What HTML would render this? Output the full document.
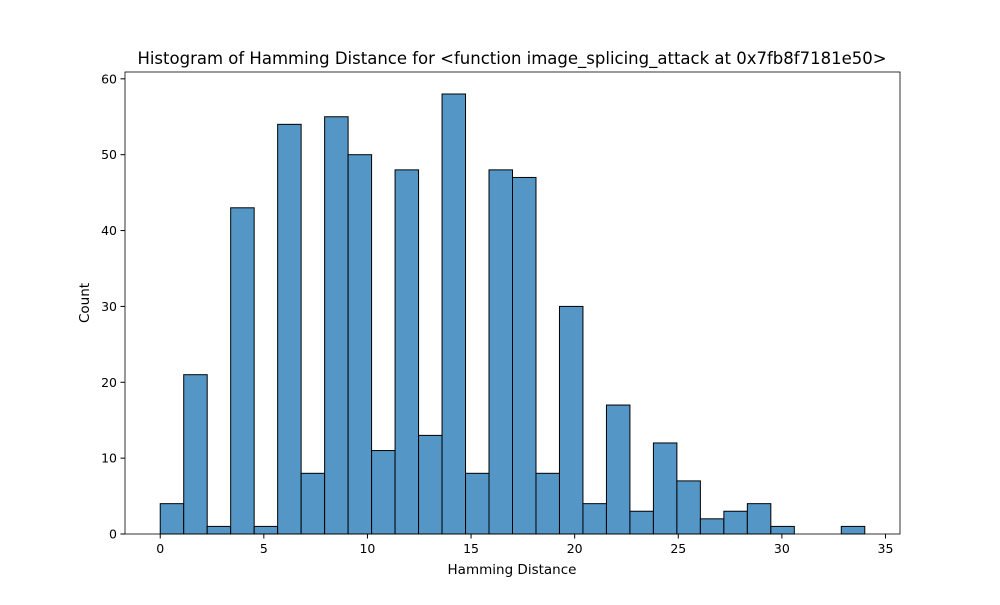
<!DOCTYPE html>
<html><head><meta charset="utf-8"><style>
body{margin:0;background:#fff;font-family:"Liberation Sans","DejaVu Sans",sans-serif}
svg text{font-family:"DejaVu Sans","Liberation Sans",sans-serif;fill:#000}
</style></head><body>
<svg id="chart" width="1000" height="600" xmlns="http://www.w3.org/2000/svg">
<rect width="1000" height="600" fill="#fff"/>
<text x="512" y="64" font-size="16.5" text-anchor="middle">Histogram of Hamming Distance for &lt;function image_splicing_attack at 0x7fb8f7181e50&gt;</text>
<g id="bars"></g>
<g id="axes"></g>
<text x="512" y="574" font-size="13.5" text-anchor="middle">Hamming Distance</text>
<text x="89" y="303" font-size="13.5" text-anchor="middle" transform="rotate(-90 89 303)">Count</text>
</svg>
<script>
const counts=[4,21,1,43,1,54,8,55,50,11,48,13,58,8,48,47,8,30,4,17,3,12,7,2,3,4,1,0,0,1];
const binStart=0, binEnd=34;
const xTicks=[0,5,10,15,20,25,30,35];
const yTicks=[0,10,20,30,40,50,60];
const L=125,R=900,T=72,B=534;
const xmin=-1.7,xmax=35.7,ymax=60.9;
const X=v=>L+(v-xmin)/(xmax-xmin)*(R-L);
const Y=v=>B-v/ymax*(B-T);
const ns="http://www.w3.org/2000/svg";
const bars=document.getElementById('bars'),axes=document.getElementById('axes');
const w=(binEnd-binStart)/counts.length;
counts.forEach((c,i)=>{
 if(c<=0)return;
 const r=document.createElementNS(ns,'rect');
 const x0=X(binStart+i*w),x1=X(binStart+(i+1)*w);
 r.setAttribute('x',x0);r.setAttribute('y',Y(c));
 r.setAttribute('width',x1-x0);r.setAttribute('height',Y(0)-Y(c));
 r.setAttribute('fill','#5497c6');r.setAttribute('stroke','#000');r.setAttribute('stroke-width','1');
 
 
 bars.appendChild(r);
});
const frame=document.createElementNS(ns,'rect');
frame.setAttribute('x',L);frame.setAttribute('y',T);frame.setAttribute('width',R-L);frame.setAttribute('height',B-T);
frame.setAttribute('fill','none');frame.setAttribute('stroke','#000');frame.setAttribute('stroke-width','0.8');


axes.appendChild(frame);
xTicks.forEach(t=>{
 const l=document.createElementNS(ns,'line');
 l.setAttribute('x1',X(t));l.setAttribute('x2',X(t));l.setAttribute('y1',B);l.setAttribute('y2',B+4.5);l.setAttribute('stroke','#000');
 
 
 axes.appendChild(l);
 const tx=document.createElementNS(ns,'text');
 tx.setAttribute('x',X(t));tx.setAttribute('y',B+19);tx.setAttribute('font-size','12.5');tx.setAttribute('text-anchor','middle');tx.textContent=t;
 
 
 axes.appendChild(tx);
});
yTicks.forEach(t=>{
 const l=document.createElementNS(ns,'line');
 l.setAttribute('x1',L-4.5);l.setAttribute('x2',L);l.setAttribute('y1',Y(t));l.setAttribute('y2',Y(t));l.setAttribute('stroke','#000');
 
 
 axes.appendChild(l);
 const tx=document.createElementNS(ns,'text');
 tx.setAttribute('x',L-8);tx.setAttribute('y',Y(t)+4.5);tx.setAttribute('font-size','12.5');tx.setAttribute('text-anchor','end');tx.textContent=t;
 
 
 axes.appendChild(tx);
});
</script>
</body></html>
